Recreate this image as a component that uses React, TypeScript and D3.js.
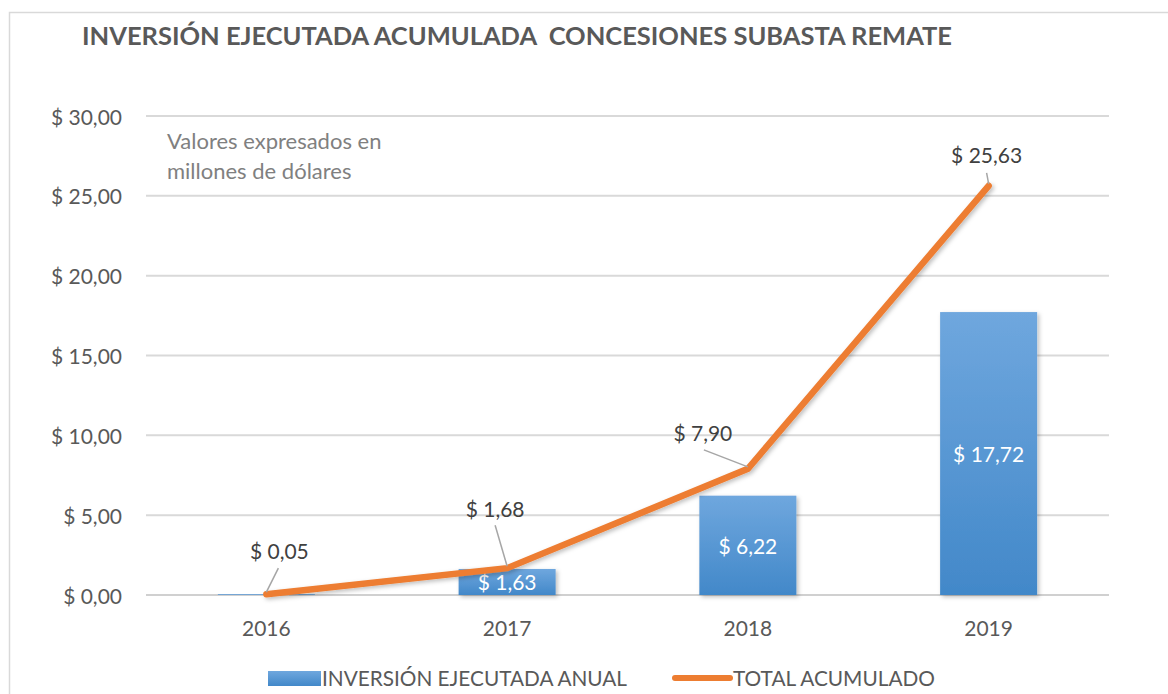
import React from "react";
import * as d3 from "d3";

const years = ["2016", "2017", "2018", "2019"];
const annualInvestment = [0.05, 1.63, 6.22, 17.72];
const cumulativeTotal = [0.05, 1.68, 7.9, 25.63];
const yTicks = [0, 5, 10, 15, 20, 25, 30];
const titleText = "INVERSIÓN EJECUTADA ACUMULADA  CONCESIONES SUBASTA REMATE";
const noteLines = ["Valores expresados en", "millones de dólares"];
const legendBar = "INVERSIÓN EJECUTADA ANUAL";
const legendLine = "TOTAL ACUMULADO";

// label placement offsets (relative to the point) for the line labels
const lineLabelOffsets = [
  { dx: 13, dy: -44, lx: 12, ly: -26 },
  { dx: -12, dy: -60, lx: -12, ly: -43 },
  { dx: -45, dy: -36, lx: -44, ly: -19 },
  { dx: -2, dy: -31, lx: -2, ly: -13 },
];

const fmt = (v: number) => "$ " + v.toFixed(2).replace(".", ",");

export default function App() {
  const W = 1168;
  const H = 694;
  const font = "Lato, 'Open Sans', sans-serif";

  const x = d3.scaleBand<string>().domain(years).range([146, 1109]).paddingInner(0.597).paddingOuter(0.2985);
  const y = d3.scaleLinear().domain([0, 30]).range([595, 116]);

  const cx = (yr: string) => (x(yr) as number) + x.bandwidth() / 2;

  const line = d3
    .line<number>()
    .x((_, i) => cx(years[i]))
    .y((d) => y(d));

  return (
    <svg
      width={W}
      height={H}
      style={{ position: "fixed", left: 0, top: 0, background: "#fff" }}
      fontFamily={font}
    >
      <defs>
        <linearGradient id="barGrad" x1="0" y1="0" x2="0" y2="1">
          <stop offset="0%" stopColor="#6fa7de" />
          <stop offset="100%" stopColor="#4288c9" />
        </linearGradient>
        <filter id="shadow" x="-20%" y="-20%" width="140%" height="140%">
          <feDropShadow dx="2" dy="2" stdDeviation="2" floodColor="#000" floodOpacity="0.25" />
        </filter>
      </defs>
      <rect x={0} y={0} width={W} height={H} fill="#fff" />
      {/* outer border */}
      <rect x={9.5} y={12.5} width={W + 20} height={H + 20} fill="none" stroke="#d9d9d9" strokeWidth={1.5} />

      {/* title */}
      <text
        x={82}
        y={45}
        fontSize={25}
        fontWeight={700}
        fill="#595959"
        textLength={870}
        lengthAdjust="spacingAndGlyphs"
        style={{ whiteSpace: "pre" }}
      >
        {titleText}
      </text>

      {/* gridlines */}
      {yTicks.map((t) => (
        <line
          key={"g" + t}
          x1={146}
          x2={1109}
          y1={y(t)}
          y2={y(t)}
          stroke={t === 0 ? "#d0d0d0" : "#d9d9d9"}
          strokeWidth={2}
        />
      ))}
      {/* y tick labels */}
      {yTicks.map((t) => (
        <text
          key={"t" + t}
          x={122}
          y={y(t)}
          textAnchor="end"
          dominantBaseline="central"
          fontSize={21}
          fill="#595959"
        >
          {fmt(t)}
        </text>
      ))}

      {/* note */}
      {noteLines.map((s, i) => (
        <text key={"n" + i} x={167} y={149 + i * 30} fontSize={22} fill="#808080">
          {s}
        </text>
      ))}

      {/* bars */}
      {years.map((yr, i) => (
        <rect
          key={"b" + yr}
          x={x(yr)}
          y={y(annualInvestment[i])}
          width={x.bandwidth()}
          height={y(0) - y(annualInvestment[i])}
          fill="url(#barGrad)"
          filter={i === 0 ? undefined : "url(#shadow)"}
        />
      ))}
      {/* bar labels */}
      {years.map((yr, i) =>
        i === 0 ? null : (
          <text
            key={"bl" + yr}
            x={cx(yr)}
            y={(y(annualInvestment[i]) + y(0)) / 2}
            textAnchor="middle"
            dominantBaseline="central"
            fontSize={21}
            fill="#ffffff"
          >
            {fmt(annualInvestment[i])}
          </text>
        )
      )}

      {/* x category labels */}
      {years.map((yr) => (
        <text
          key={"x" + yr}
          x={cx(yr)}
          y={627}
          textAnchor="middle"
          dominantBaseline="central"
          fontSize={21}
          fill="#595959"
        >
          {yr}
        </text>
      ))}

      {/* line */}
      <path
        d={line(cumulativeTotal) as string}
        fill="none"
        stroke="#ed7d31"
        strokeWidth={6.5}
        strokeLinecap="round"
        strokeLinejoin="miter"
        filter="url(#shadow)"
      />

      {/* line labels with leaders */}
      {years.map((yr, i) => {
        const px = cx(yr);
        const py = y(cumulativeTotal[i]);
        const o = lineLabelOffsets[i];
        return (
          <g key={"ll" + yr}>
            <line x1={px} y1={py - 2} x2={px + o.lx} y2={py + o.ly} stroke="#a6a6a6" strokeWidth={1.5} />
            <text
              x={px + o.dx}
              y={py + o.dy}
              textAnchor="middle"
              dominantBaseline="central"
              fontSize={21}
              fill="#404040"
            >
              {fmt(cumulativeTotal[i])}
            </text>
          </g>
        );
      })}

      {/* legend */}
      <rect x={268} y={671} width={53} height={15} fill="url(#barGrad)" />
      <text x={322} y={686} fontSize={21} fill="#595959" textLength={305} lengthAdjust="spacingAndGlyphs">
        {legendBar}
      </text>
      <line x1={675} x2={730} y1={678} y2={678} stroke="#ed7d31" strokeWidth={6} strokeLinecap="round" />
      <text x={733} y={686} fontSize={21} fill="#595959" textLength={202} lengthAdjust="spacingAndGlyphs">
        {legendLine}
      </text>
    </svg>
  );
}
